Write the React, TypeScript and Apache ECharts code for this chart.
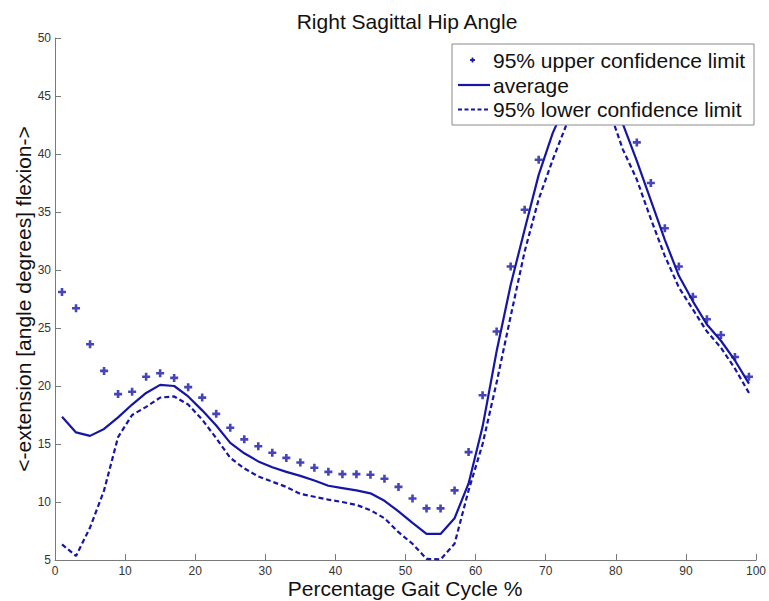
import React, { useEffect, useRef } from 'react';
import * as echarts from 'echarts';

const chartTitle = 'Right Sagittal Hip Angle';
const xAxisLabel = 'Percentage Gait Cycle %';
const yAxisLabel = '<-extension [angle degrees] flexion->';
const seriesNames = ['95% upper confidence limit', 'average', '95% lower confidence limit'];

const gaitPercent = [
  1, 3, 5, 7, 9, 11, 13, 15, 17, 19, 21, 23, 25, 27, 29, 31, 33, 35, 37, 39, 41, 43, 45, 47, 49,
  51, 53, 55, 57, 59, 61, 63, 65, 67, 69, 71, 73, 75, 77, 79, 81, 83, 85, 87, 89, 91, 93, 95, 97, 99,
];

const upperLimit = [
  28.1, 26.7, 23.6, 21.3, 19.3, 19.5, 20.8, 21.1, 20.7, 19.9, 19.0, 17.6, 16.4, 15.4, 14.8, 14.25, 13.8, 13.4, 12.95, 12.6, 12.4, 12.4, 12.35, 12.0, 11.3,
  10.3, 9.45, 9.45, 11.0, 14.3, 19.2, 24.7, 30.3, 35.2, 39.5, 43.2, 46.0, 47.6, 48.0, 47.0, 44.5, 41.0, 37.5, 33.6, 30.3, 27.7, 25.75, 24.4, 22.5, 20.8,
];

const average = [
  17.35, 16.0, 15.7, 16.3, 17.3, 18.4, 19.4, 20.1, 20.0, 19.1, 17.9, 16.6, 15.1, 14.2, 13.5, 13.0, 12.6, 12.25, 11.85, 11.4, 11.2, 11.0, 10.75, 10.1, 9.2,
  8.2, 7.25, 7.25, 8.6, 11.6, 16.5, 23.0, 28.7, 33.5, 38.2, 41.8, 44.5, 46.0, 46.3, 45.2, 42.6, 39.4, 36.0, 32.6, 29.5, 27.3, 25.3, 23.9, 22.2, 20.2,
];

const lowerLimit = [
  6.35, 5.35, 7.8, 11.0, 15.6, 17.5, 18.2, 19.0, 19.1, 18.4, 17.1, 15.5, 13.8, 12.9, 12.2, 11.75, 11.3, 10.7, 10.45, 10.2, 10.0, 9.75, 9.3, 8.6, 7.4,
  6.4, 5.1, 5.05, 6.4, 11.0, 15.0, 20.3, 26.0, 31.6, 36.1, 39.5, 42.6, 44.6, 45.2, 43.9, 40.4, 37.8, 34.4, 31.2, 28.5, 26.6, 24.7, 23.3, 21.5, 19.4,
];

const BLUE = '#1616a6';
const FONT = '"Liberation Sans", Arial, Helvetica, sans-serif';
const PLUS = 'path://M2.7,0H5.3V2.7H8V5.3H5.3V8H2.7V5.3H0V2.7H2.7Z';

export default function App() {
  const ref = useRef<HTMLDivElement>(null);
  useEffect(() => {
    if (!ref.current) return;
    const chart = echarts.init(ref.current, null, { renderer: 'svg' });
    const pairs = (vals: number[]) => gaitPercent.map((x, i) => [x, vals[i]]);
    const axisCommon = {
      axisLine: { show: true, lineStyle: { color: '#7a7a7a', width: 1 } },
      axisTick: { show: true, inside: true, length: 6, lineStyle: { color: '#7a7a7a' } },
      splitLine: { show: false },
      axisLabel: { color: '#333', fontSize: 12, fontFamily: FONT },
    };
    const legendX = 452;
    const legendY = 44;
    chart.setOption({
      animation: false,
      backgroundColor: '#fff',
      grid: { left: 55, right: 10, top: 38, bottom: 41, containLabel: false },
      xAxis: {
        type: 'value', min: 0, max: 100, interval: 10,
        ...axisCommon,
        axisLabel: { ...axisCommon.axisLabel, margin: 5 },
      },
      yAxis: {
        type: 'value', min: 5, max: 50, interval: 5,
        ...axisCommon,
        axisLabel: { ...axisCommon.axisLabel, margin: 4 },
      },
      series: [
        {
          name: seriesNames[0], type: 'scatter', data: pairs(upperLimit),
          symbol: PLUS, symbolSize: 8, itemStyle: { color: BLUE }, z: 3,
        },
        {
          name: seriesNames[1], type: 'line', data: pairs(average), showSymbol: false,
          lineStyle: { color: BLUE, width: 2.2 }, z: 2,
        },
        {
          name: seriesNames[2], type: 'line', data: pairs(lowerLimit), showSymbol: false,
          lineStyle: { color: BLUE, width: 2.2, type: [5, 3] }, z: 2,
        },
      ],
      graphic: [
        {
          type: 'text', x: 407, y: 21, z: 10,
          style: { text: chartTitle, font: `21px ${FONT}`, fill: '#111', textAlign: 'center', textVerticalAlign: 'middle' },
        },
        {
          type: 'text', x: 405, y: 588, z: 10,
          style: { text: xAxisLabel, font: `21px ${FONT}`, fill: '#111', textAlign: 'center', textVerticalAlign: 'middle' },
        },
        {
          type: 'text', x: 23, y: 299, rotation: Math.PI / 2, z: 10,
          style: { text: yAxisLabel, font: `21px ${FONT}`, fill: '#111', textAlign: 'center', textVerticalAlign: 'middle' },
        },
        {
          type: 'group', x: legendX, y: legendY, z: 20,
          children: [
            { type: 'rect', shape: { x: 0, y: 0, width: 302, height: 81 }, style: { fill: '#fff', stroke: '#8a8a8a', lineWidth: 1 }, z: 20 },
            { type: 'line', shape: { x1: 18, y1: 16, x2: 23, y2: 16 }, style: { stroke: BLUE, lineWidth: 1.8 }, z: 21 },
            { type: 'line', shape: { x1: 20.5, y1: 13.5, x2: 20.5, y2: 18.5 }, style: { stroke: BLUE, lineWidth: 1.8 }, z: 21 },
            { type: 'line', shape: { x1: 6, y1: 41, x2: 38, y2: 41 }, style: { stroke: BLUE, lineWidth: 2.2 }, z: 21 },
            { type: 'line', shape: { x1: 6, y1: 65.5, x2: 38, y2: 65.5 }, style: { stroke: BLUE, lineWidth: 2.2, lineDash: [4, 2.5] }, z: 21 },
            { type: 'text', x: 41, y: 16, style: { text: seriesNames[0], font: `21px ${FONT}`, fill: '#111', textVerticalAlign: 'middle' }, z: 21 },
            { type: 'text', x: 41, y: 41, style: { text: seriesNames[1], font: `21px ${FONT}`, fill: '#111', textVerticalAlign: 'middle' }, z: 21 },
            { type: 'text', x: 41, y: 65.5, style: { text: seriesNames[2], font: `21px ${FONT}`, fill: '#111', textVerticalAlign: 'middle' }, z: 21 },
          ],
        },
      ],
    });
    return () => chart.dispose();
  }, []);
  return <div ref={ref} style={{ position: 'fixed', left: 0, top: 0, width: 769, height: 601 }} />;
}
